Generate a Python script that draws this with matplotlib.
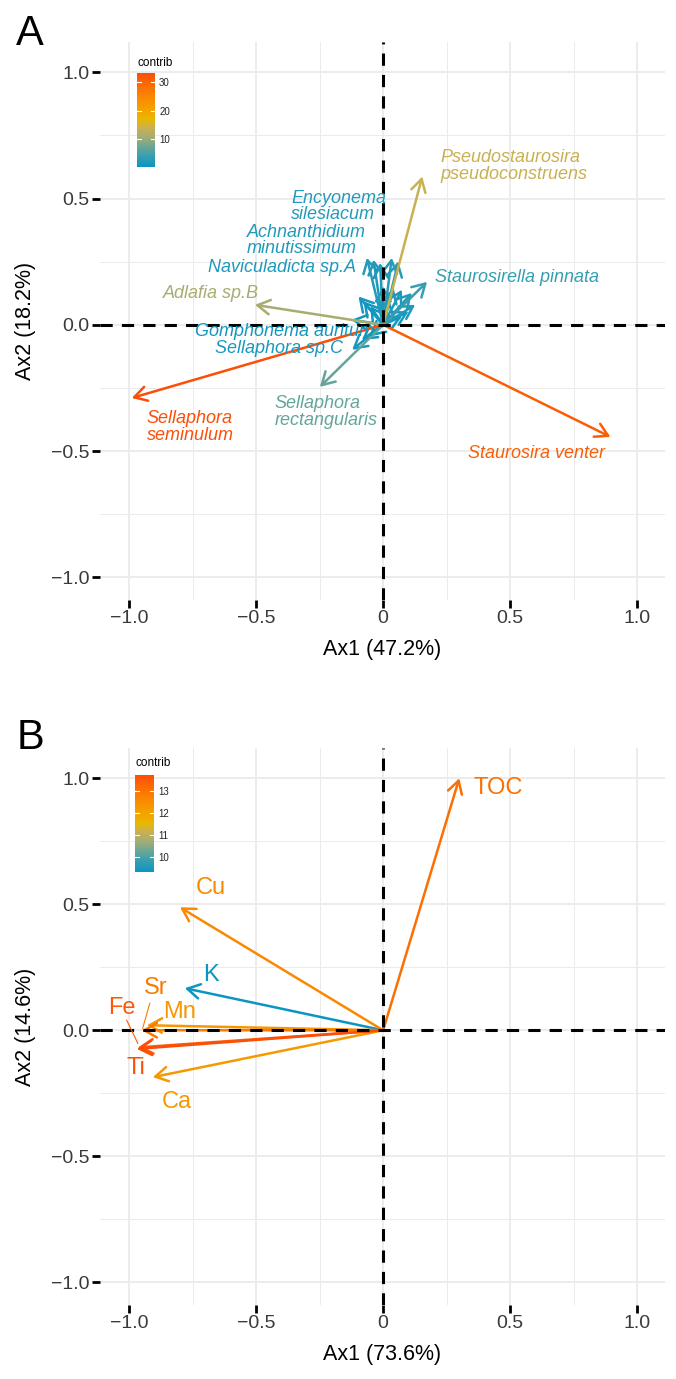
import matplotlib
matplotlib.use("Agg")
import matplotlib.pyplot as plt
import numpy as np
from matplotlib.colors import LinearSegmentedColormap, Normalize
from matplotlib.cm import ScalarMappable

plt.rcParams['font.family'] = ['Liberation Sans', 'DejaVu Sans']

# ---- panel A : diatom species ----
species_a = ["Sellaphora\nseminulum", "Staurosira venter", "Pseudostaurosira\npseudoconstruens",
             "Adlafia sp.B", "Sellaphora\nrectangularis", "Staurosirella pinnata",
             "Encyonema\nsilesiacum", "Achnanthidium\nminutissimum", "Naviculadicta sp.A",
             "Gomphonema auritum", "Sellaphora sp.C",
             "", "", "", "", "", "", "", "", "", "", "", "", "", "", ""]
ax1_a = [-0.99, 0.895, 0.154, -0.505, -0.249, 0.173,
         -0.064, -0.038, -0.012, -0.124, -0.122,
         0.034, 0.06, -0.097, -0.078, -0.051, 0.001, 0.041, 0.074, 0.113, 0.126, 0.10, 0.074, 0.021,
         -0.084, -0.051]
ax2_a = [-0.29, -0.444, 0.587, 0.079, -0.246, 0.17,
         0.265, 0.258, 0.245, 0.02, -0.099,
         0.265, 0.251, 0.112, 0.093, 0.073, 0.152, 0.146, 0.139, 0.126, 0.079, 0.053, 0.033, 0.106,
         -0.06, -0.046]
contrib_a = [33.1, 31.0, 14.0, 11.0, 7.0, 4.0,
             2.4, 2.2, 2.0, 1.2, 1.5,
             2.6, 2.8, 1.3, 0.9, 0.6, 1.6, 1.8, 2.0, 2.3, 2.5, 1.4, 0.8, 1.0,
             0.7, 0.4]

# label anchor (left edge, vertical centre) in data units
label_pos_a = {
    "Sellaphora\nseminulum": (-0.931, -0.405),
    "Staurosira venter": (0.335, -0.508),
    "Pseudostaurosira\npseudoconstruens": (0.225, 0.629),
    "Adlafia sp.B": (-0.868, 0.123),
    "Sellaphora\nrectangularis": (-0.426, -0.345),
    "Staurosirella pinnata": (0.205, 0.187),
    "Encyonema\nsilesiacum": (-0.363, 0.468),
    "Achnanthidium\nminutissimum": (-0.536, 0.333),
    "Naviculadicta sp.A": (-0.690, 0.226),
    "Gomphonema auritum": (-0.742, -0.028),
    "Sellaphora sp.C": (-0.663, -0.095),
}

# ---- panel B : geochemistry ----
vars_b = ["TOC", "Cu", "K", "Mn", "Sr", "Fe", "Ti", "Ca"]
ax1_b = [0.30, -0.80, -0.781, -0.93, -0.95, -0.965, -0.97, -0.907]
ax2_b = [1.0, 0.488, 0.167, 0.02, 0.0, -0.068, -0.074, -0.186]
contrib_b = [13.1, 12.6, 9.32, 12.3, 12.9, 13.5, 13.73, 12.2]

label_pos_b = {
    "TOC": (0.454, 0.96), "Cu": (-0.68, 0.563), "K": (-0.68, 0.218), "Sr": (-0.896, 0.167),
    "Mn": (-0.80, 0.071), "Fe": (-1.03, 0.087), "Ti": (-0.974, -0.151), "Ca": (-0.813, -0.286),
}
leaders_b = {"Sr": ((-0.919, 0.107), (-0.947, 0.008)),
             "Fe": ((-1.01, 0.04), (-0.966, -0.052))}

# blue -> gold -> orange-red, stops eased to look like a Lab blend
cmap = LinearSegmentedColormap.from_list("contrib", [
    (0.0, "#0B95C3"), (0.12, "#3A9FB0"), (0.22, "#6DA794"), (0.32, "#A6AC72"),
    (0.42, "#CBB050"), (0.5, "#E7B800"), (0.62, "#F5A000"), (0.75, "#FA8700"),
    (0.88, "#FB6A04"), (1.0, "#FC4E07")])


def style_axes(ax, xlab, ylab):
    ax.set_xlim(-1.115, 1.11)
    ax.set_ylim(-1.09, 1.12)
    for s in ax.spines.values():
        s.set_visible(False)
    for v in [-0.75, -0.25, 0.25, 0.75]:
        ax.axvline(v, color="#EBEBEB", lw=0.7, zorder=0)
        ax.axhline(v, color="#EBEBEB", lw=0.7, zorder=0)
    for v in [-1, -0.5, 0, 0.5, 1]:
        ax.axvline(v, color="#EBEBEB", lw=1.3, zorder=0)
        ax.axhline(v, color="#EBEBEB", lw=1.3, zorder=0)
    ax.set_xticks([-1, -0.5, 0, 0.5, 1])
    ax.set_xticklabels(["\u22121.0", "\u22120.5", "0", "0.5", "1.0"])
    ax.set_yticks([-1, -0.5, 0, 0.5, 1])
    ax.set_yticklabels(["\u22121.0", "\u22120.5", "0.0", "0.5", "1.0"])
    ax.tick_params(direction="out", length=5.5, width=2, color="black",
                   labelsize=14, labelcolor="#3A3A3A", pad=2)
    ax.set_xlabel(xlab, fontsize=15.5, labelpad=8)
    ax.set_ylabel(ylab, fontsize=15.5, labelpad=11)
    ax.axhline(0, color="black", lw=2.2, ls=(0, (4, 3)), zorder=4)
    ax.axvline(0, color="black", lw=2.2, ls=(0, (4, 3)), zorder=4)


def draw_arrows(ax, xs, ys, cs, norm):
    order = np.argsort(cs)
    for i in order:
        ax.annotate("", xy=(xs[i], ys[i]), xytext=(0, 0),
                    arrowprops=dict(arrowstyle="->,head_length=0.45,head_width=0.26",
                                    color=cmap(norm(cs[i])), lw=1.8,
                                    shrinkA=0, shrinkB=0, mutation_scale=20),
                    zorder=3)


def add_colorbar(fig, rect, norm, ticks, title_y):
    cax = fig.add_axes(rect)
    cb = fig.colorbar(ScalarMappable(norm=norm, cmap=cmap), cax=cax)
    cb.outline.set_visible(False)
    cb.set_ticks(ticks)
    cax.tick_params(length=0, labelsize=7, pad=3, labelcolor="#222222")
    for t in ticks:
        cax.plot([0, 0.22], [t, t], color="white", lw=0.8)
        cax.plot([0.78, 1], [t, t], color="white", lw=0.8)
    fig.text(rect[0], title_y, "contrib", fontsize=8.5, ha="left", va="center")


W, H = 676, 1379
fig = plt.figure(figsize=(W / 100, H / 100), dpi=100)

# panel A
axA = fig.add_axes([100 / W, 1 - 600 / H, 565 / W, 558 / H])
style_axes(axA, "Ax1 (47.2%)", "Ax2 (18.2%)")
normA = Normalize(0.35, 33.1)
draw_arrows(axA, ax1_a, ax2_a, contrib_a, normA)
for name, x, y, c in zip(species_a, ax1_a, ax2_a, contrib_a):
    if name:
        lx, ly = label_pos_a[name]
        axA.text(lx, ly, name, fontsize=13, style="italic", color=cmap(normA(c)),
                 ha="left", va="center", linespacing=0.95, zorder=5)
add_colorbar(fig, [137 / W, 1 - 167 / H, 18 / W, 94 / H], normA, [10, 20, 30], 1 - 63 / H)

# panel B
axB = fig.add_axes([100 / W, 1 - 1305 / H, 565 / W, 557 / H])
style_axes(axB, "Ax1 (73.6%)", "Ax2 (14.6%)")
normB = Normalize(9.32, 13.73)
draw_arrows(axB, ax1_b, ax2_b, contrib_b, normB)
for name, c in zip(vars_b, contrib_b):
    lx, ly = label_pos_b[name]
    axB.text(lx, ly, name, fontsize=17, color=cmap(normB(c)), ha="center", va="center", zorder=5)
    if name in leaders_b:
        (x0, y0), (x1, y1) = leaders_b[name]
        axB.plot([x0, x1], [y0, y1], color=cmap(normB(c)), lw=0.8, zorder=5)
add_colorbar(fig, [135 / W, 1 - 872 / H, 19 / W, 97 / H], normB, [10, 11, 12, 13], 1 - 763 / H)

fig.text(30 / W, 1 - 34 / H, "A", fontsize=30, ha="center", va="center")
fig.text(30 / W, 1 - 738 / H, "B", fontsize=30, ha="center", va="center")

fig.savefig("out.png", dpi=100)
